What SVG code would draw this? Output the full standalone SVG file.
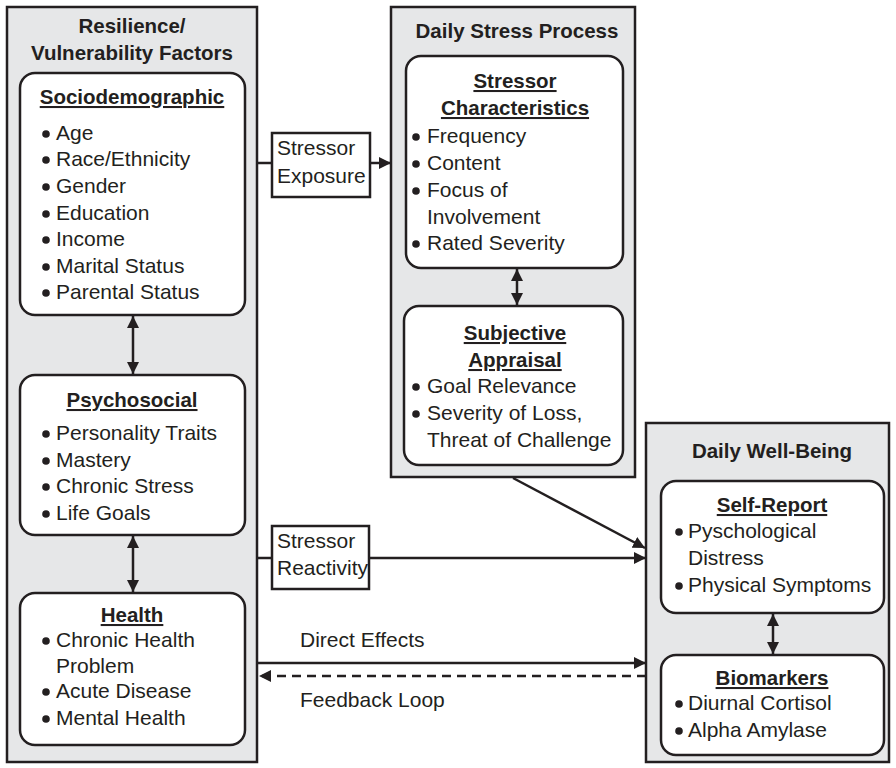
<svg xmlns="http://www.w3.org/2000/svg" width="896" height="768" viewBox="0 0 896 768">
<defs>
<style>
.panel{fill:#e6e7e8;stroke:#231f20;stroke-width:2.5}
.box{fill:#ffffff;stroke:#231f20;stroke-width:2.5}
.lbl{fill:#ffffff;stroke:#231f20;stroke-width:2.5}
text{font-family:"Liberation Sans",Arial,Helvetica,sans-serif;font-size:21px;fill:#231f20}
.t{font-weight:bold;text-anchor:middle;font-size:20.5px}
.h{font-weight:bold;text-anchor:middle;text-decoration:underline;font-size:20.5px}
.c{stroke:#231f20;stroke-width:2.5;fill:none}
.d{stroke-dasharray:9 6}
.b{fill:#231f20}
</style>
<marker id="ah" viewBox="0 0 12 12" refX="12" refY="6" markerWidth="12" markerHeight="12" markerUnits="userSpaceOnUse" orient="auto-start-reverse">
<path d="M0,0 L12,6 L0,12 z" fill="#231f20"/>
</marker>
</defs>
<rect width="896" height="768" fill="#ffffff"/>

<g id="panel-resilience">
<rect class="panel" x="7" y="7" width="250" height="755"/>
<text class="t" x="132" y="33">Resilience/</text>
<text class="t" x="132" y="60">Vulnerability Factors</text>
</g>
<g id="sociodemographic">
<rect class="box" x="20" y="73" width="225" height="242" rx="15"/>
<text class="h" x="132" y="104">Sociodemographic</text>
<circle class="b" cx="46" cy="134" r="3.8"/><text x="56" y="140">Age</text>
<circle class="b" cx="46" cy="160" r="3.8"/><text x="56" y="166">Race/Ethnicity</text>
<circle class="b" cx="46" cy="187" r="3.8"/><text x="56" y="193">Gender</text>
<circle class="b" cx="46" cy="214" r="3.8"/><text x="56" y="220">Education</text>
<circle class="b" cx="46" cy="240" r="3.8"/><text x="56" y="246">Income</text>
<circle class="b" cx="46" cy="267" r="3.8"/><text x="56" y="273">Marital Status</text>
<circle class="b" cx="46" cy="293" r="3.8"/><text x="56" y="299">Parental Status</text>
</g>
<g id="psychosocial">
<rect class="box" x="20" y="375" width="225" height="160" rx="15"/>
<text class="h" x="132" y="407">Psychosocial</text>
<circle class="b" cx="46" cy="434" r="3.8"/><text x="56" y="440">Personality Traits</text>
<circle class="b" cx="46" cy="461" r="3.8"/><text x="56" y="467">Mastery</text>
<circle class="b" cx="46" cy="487" r="3.8"/><text x="56" y="493">Chronic Stress</text>
<circle class="b" cx="46" cy="514" r="3.8"/><text x="56" y="520">Life Goals</text>
</g>
<g id="health">
<rect class="box" x="20" y="593" width="225" height="152" rx="15"/>
<text class="h" x="132" y="622">Health</text>
<circle class="b" cx="46" cy="641" r="3.8"/><text x="56" y="647">Chronic Health</text>
<text x="56" y="673">Problem</text>
<circle class="b" cx="46" cy="692" r="3.8"/><text x="56" y="698">Acute Disease</text>
<circle class="b" cx="46" cy="719" r="3.8"/><text x="56" y="725">Mental Health</text>
</g>

<g id="panel-daily-stress">
<rect class="panel" x="391" y="7" width="244" height="470"/>
<text class="t" x="517" y="38">Daily Stress Process</text>
</g>
<g id="stressor-characteristics">
<rect class="box" x="406" y="56" width="217" height="212" rx="15"/>
<text class="h" x="515" y="88">Stressor</text>
<text class="h" x="515" y="115">Characteristics</text>
<circle class="b" cx="416" cy="137" r="3.8"/><text x="427" y="143">Frequency</text>
<circle class="b" cx="416" cy="164" r="3.8"/><text x="427" y="170">Content</text>
<circle class="b" cx="416" cy="191" r="3.8"/><text x="427" y="197">Focus of</text>
<text x="427" y="224">Involvement</text>
<circle class="b" cx="416" cy="244" r="3.8"/><text x="427" y="250">Rated Severity</text>
</g>
<g id="subjective-appraisal">
<rect class="box" x="404" y="306" width="219" height="159" rx="15"/>
<text class="h" x="515" y="340">Subjective</text>
<text class="h" x="515" y="367">Appraisal</text>
<circle class="b" cx="416" cy="387" r="3.8"/><text x="427" y="393">Goal Relevance</text>
<circle class="b" cx="416" cy="414" r="3.8"/><text x="427" y="420">Severity of Loss,</text>
<text x="427" y="447">Threat of Challenge</text>
</g>

<g id="panel-well-being">
<rect class="panel" x="646" y="423" width="243" height="339"/>
<text class="t" x="772" y="458">Daily Well-Being</text>
</g>
<g id="self-report">
<rect class="box" x="661" y="481" width="223" height="132" rx="15"/>
<text class="h" x="772" y="512">Self-Report</text>
<circle class="b" cx="679" cy="532" r="3.8"/><text x="688" y="538">Pyschological</text>
<text x="688" y="565">Distress</text>
<circle class="b" cx="679" cy="586" r="3.8"/><text x="688" y="592">Physical Symptoms</text>
</g>
<g id="biomarkers">
<rect class="box" x="661" y="655" width="223" height="100" rx="15"/>
<text class="h" x="772" y="685">Biomarkers</text>
<circle class="b" cx="679" cy="704" r="3.8"/><text x="688" y="710">Diurnal Cortisol</text>
<circle class="b" cx="679" cy="731" r="3.8"/><text x="688" y="737">Alpha Amylase</text>
</g>

<g id="connectors">
<line class="c" x1="257" y1="163" x2="272" y2="163"/>
<line class="c" x1="370" y1="163" x2="391" y2="163" marker-end="url(#ah)"/>
<line class="c" x1="257" y1="558" x2="272" y2="558"/>
<line class="c" x1="369" y1="558" x2="646" y2="558" marker-end="url(#ah)"/>
<line class="c" x1="513" y1="478" x2="645" y2="548" marker-end="url(#ah)"/>
<line class="c" x1="257" y1="663" x2="646" y2="663" marker-end="url(#ah)"/>
<line class="c d" x1="646" y1="676" x2="259" y2="676" marker-end="url(#ah)"/>
<line class="c" x1="133" y1="316" x2="133" y2="374" marker-start="url(#ah)" marker-end="url(#ah)"/>
<line class="c" x1="133" y1="536" x2="133" y2="592" marker-start="url(#ah)" marker-end="url(#ah)"/>
<line class="c" x1="517" y1="269" x2="517" y2="305" marker-start="url(#ah)" marker-end="url(#ah)"/>
<line class="c" x1="773" y1="614" x2="773" y2="654" marker-start="url(#ah)" marker-end="url(#ah)"/>
<text x="300" y="647">Direct Effects</text>
<text x="300" y="707">Feedback Loop</text>
</g>
<g id="stressor-exposure">
<rect class="lbl" x="272" y="133" width="98" height="64"/>
<text x="277" y="155">Stressor</text>
<text x="277" y="183">Exposure</text>
</g>
<g id="stressor-reactivity">
<rect class="lbl" x="272" y="526" width="97" height="63"/>
<text x="277" y="548">Stressor</text>
<text x="277" y="575">Reactivity</text>
</g>
</svg>
